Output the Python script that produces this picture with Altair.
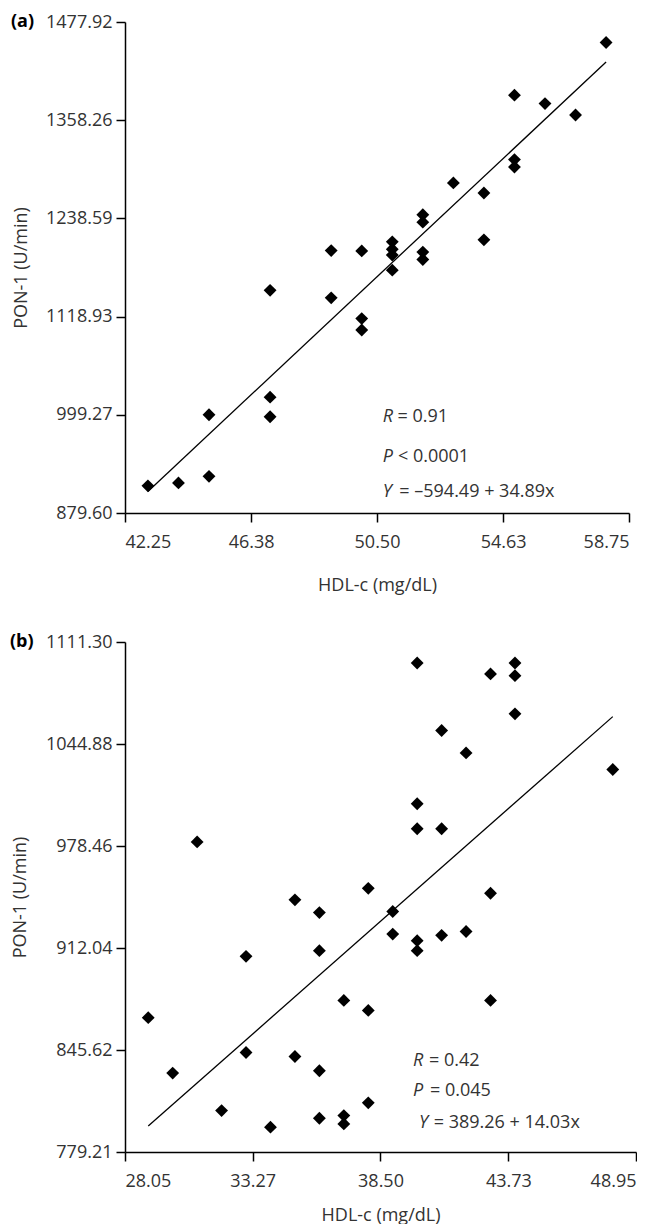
import altair as alt
import pandas as pd

# ---------------- data ----------------
a_hdl = [43, 44, 45, 45, 47, 47, 47, 49, 49, 50, 50, 50, 51, 51, 51, 51,
         52, 52, 52, 52, 53, 54, 54, 55, 55, 55, 56, 57, 58]
a_pon = [912.7, 916.3, 924.3, 999.3, 996.9, 1020.8, 1150.9, 1141.8, 1199.4,
         1199.0, 1116.5, 1102.6, 1210.0, 1201.0, 1194.0, 1175.5,
         1243.0, 1234.0, 1197.5, 1188.5, 1281.8, 1269.5, 1212.5,
         1388.8, 1310.3, 1301.2, 1378.5, 1364.6, 1452.9]

b_hdl = [29, 30, 31, 32, 33, 33, 34, 35, 35, 36, 36, 36, 36, 37, 37, 37,
         38, 38, 38, 39, 39, 40, 40, 40, 40, 40, 41, 41, 41, 42, 42,
         43, 43, 43, 44, 44, 44, 48]
b_pon = [866.7, 830.6, 981.1, 806.2, 906.6, 844.0, 795.4, 943.4, 841.4,
         935.1, 910.3, 832.1, 801.2, 877.9, 802.9, 797.5,
         950.9, 871.4, 811.2, 935.8, 921.1, 1097.6, 1006.0, 989.7, 916.8, 910.3,
         1053.7, 989.7, 920.3, 1039.1, 922.8,
         1090.5, 947.7, 877.9, 1097.6, 1089.4, 1064.5, 1028.3]

a_xticks = [42.25, 46.38, 50.50, 54.63, 58.75]
a_yticks = [879.60, 999.27, 1118.93, 1238.59, 1358.26, 1477.92]
b_xticks = [28.05, 33.27, 38.50, 43.73, 48.95]
b_yticks = [779.21, 845.62, 912.04, 978.46, 1044.88, 1111.30]

a_fit = (-594.49, 34.89)
a_fit_x = [43, 58]
b_fit = (389.26, 14.03)
b_fit_x = [29, 48]

a_stats = [("R", "= 0.91"), ("P", "< 0.0001"), ("Y", "= \u2013594.49 + 34.89x")]
b_stats = [("R", "= 0.42"), ("P", "= 0.045"), ("Y", "= 389.26 + 14.03x")]

FONT = "Open Sans"
TXT = "#333333"
FS = 18


def text_mark(txt, x, y, style="normal", weight="normal", color=TXT, size=FS):
    return alt.Chart(pd.DataFrame({"t": [txt]})).mark_text(
        font=FONT, fontSize=size, fontStyle=style, fontWeight=weight,
        color=color, align="left", baseline="middle"
    ).encode(x=alt.value(x), y=alt.value(y), text="t:N")


def panel(hdl, pon, xt, yt, fit, fit_x, W, H, letter, stats, stat_pos,
          xtitle_y, left_off):
    pts = pd.DataFrame({"x": hdl, "y": pon})
    line = pd.DataFrame({"x": fit_x, "y": [fit[0] + fit[1] * v for v in fit_x]})
    xs = alt.Scale(domain=[xt[0], xt[-1]], nice=False, zero=False)
    ys = alt.Scale(domain=[yt[0], yt[-1]], nice=False, zero=False)
    xaxis = alt.Axis(values=xt, format=".2f", title="HDL-c (mg/dL)",
                     titleY=xtitle_y, titleBaseline="middle", labelPadding=11)
    yaxis = alt.Axis(values=yt, format=".2f", title="PON-1 (U/min)",
                     titleX=left_off + 10, titleY=H / 2, titleBaseline="middle",
                     titleAlign="center", labelPadding=4)
    base = alt.Chart(pts).mark_point(
        shape="diamond", filled=True, size=165, color="black", opacity=1
    ).encode(
        x=alt.X("x:Q", scale=xs, axis=xaxis),
        y=alt.Y("y:Q", scale=ys, axis=yaxis),
    )
    fitl = alt.Chart(line).mark_line(color="black", strokeWidth=1.3).encode(
        x=alt.X("x:Q", scale=xs), y=alt.Y("y:Q", scale=ys)
    )
    layers = [base, fitl,
              text_mark(letter, left_off, 0, weight="bold", color="black")]
    for (lab, rest), (x0, x1, yy) in zip(stats, stat_pos):
        layers.append(text_mark(lab, x0, yy, style="italic"))
        layers.append(text_mark(rest, x1, yy))
    return alt.layer(*layers).properties(width=W, height=H)


HA = 491
WA = 504
HB = 510
WB = 511

pos_a = [(257.7, 272.5, HA - 95.8), (257.7, 273.0, HA - 55.8), (257.7, 274.3, HA - 20.8)]
pos_b = [(288, 304, 419.4), (288, 305, 449.4), (294, 308.7, 481)]

pa = panel(a_hdl, a_pon, a_xticks, a_yticks, a_fit, a_fit_x, WA, HA, "(a)",
           a_stats, pos_a, 72, -114)
pb = panel(b_hdl, b_pon, b_xticks, b_yticks, b_fit, b_fit_x, WB, HB, "(b)",
           b_stats, pos_b, 63, -115)

chart = alt.vconcat(pa, pb, spacing=39).properties(
    padding={"left": 2, "top": 5, "right": 0, "bottom": 0}
).configure_view(
    stroke=None
).configure_axis(
    grid=False, domainColor="black", domainWidth=1.5, tickColor="black",
    tickWidth=1.5, tickSize=9, labelFont=FONT, labelFontSize=FS,
    labelColor=TXT, titleFont=FONT, titleFontSize=FS, titleFontWeight="normal",
    titleColor=TXT
)

chart.save("out.html", embed_options={"renderer": "svg", "actions": False})
